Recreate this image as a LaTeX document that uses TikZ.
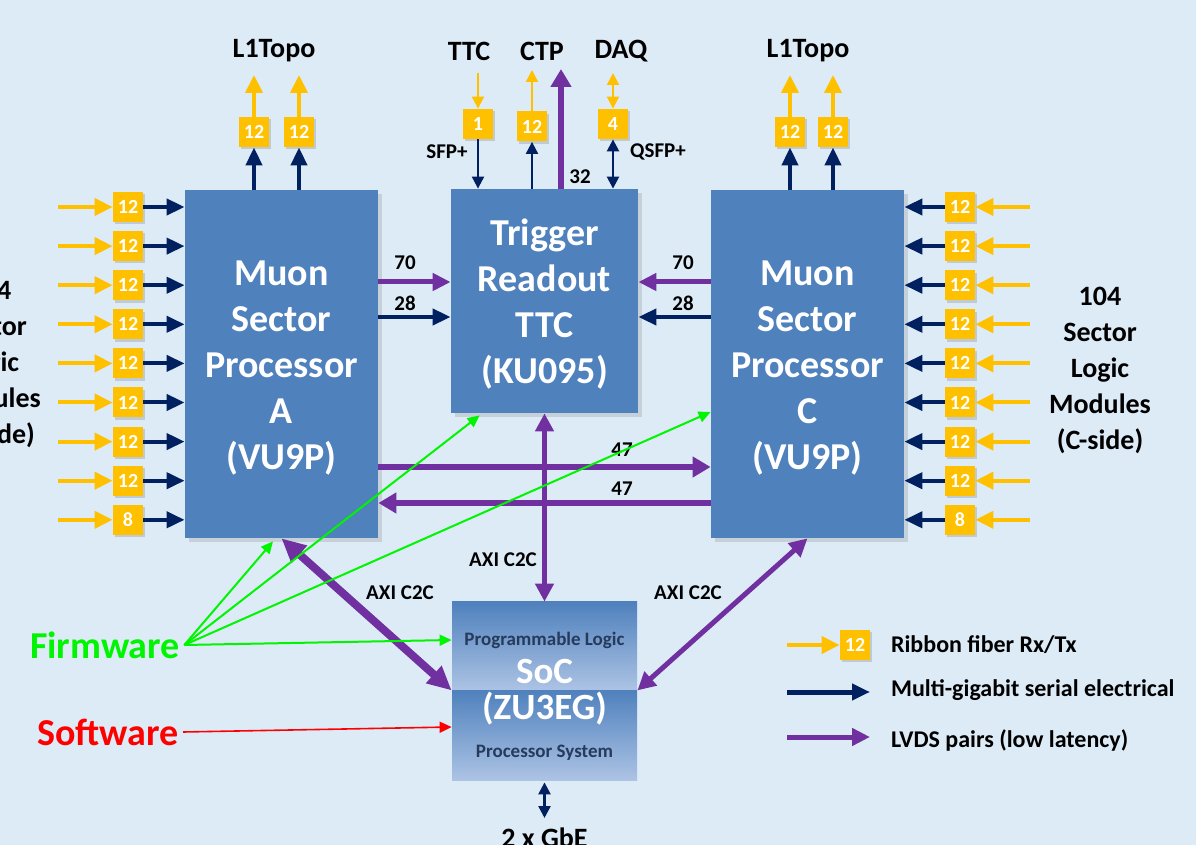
\documentclass[tikz,border=0pt]{standalone}
\usepackage{fontspec}
\setmainfont{Carlito}
\usetikzlibrary{arrows.meta,calc,shadows}
\definecolor{bg}{RGB}{221,235,247}
\definecolor{boxblue}{RGB}{79,129,189}
\definecolor{soclight}{RGB}{172,195,228}
\definecolor{fiber}{RGB}{255,192,0}
\definecolor{navy}{RGB}{0,32,96}
\definecolor{lvds}{RGB}{112,48,160}
\definecolor{fwgreen}{RGB}{0,245,0}
\definecolor{swred}{RGB}{255,0,0}
\definecolor{soctext}{RGB}{38,58,92}
\begin{document}
\begin{tikzpicture}[x=0.5pt,y=-0.5pt,
  bigbox/.style={fill=boxblue, draw=none, inner sep=0pt,
    drop shadow={shadow xshift=2pt,shadow yshift=-2pt,opacity=0.25}},
  bigtxt/.style={text=white, align=center, inner sep=0pt,
    font=\bfseries\fontsize{19}{23}\selectfont},
  socbox/.style={draw=none, inner sep=0pt, top color=boxblue, bottom color=soclight,
    minimum width=92.5pt},
  sbox/.style={fill=fiber, text=white, minimum size=15pt, inner sep=0pt,
    font=\bfseries\fontsize{10}{12}\selectfont,
    drop shadow={shadow xshift=1.2pt,shadow yshift=-1.2pt,opacity=0.3}},
  ttl/.style={font=\bfseries\fontsize{14}{18}\selectfont, align=center, inner sep=1pt},
  lbl/.style={font=\bfseries\fontsize{10.5}{12}\selectfont, inner sep=1pt},
  legtxt/.style={font=\bfseries\fontsize{12}{14}\selectfont, anchor=west},
  soctxt/.style={font=\bfseries\fontsize{9.5}{11}\selectfont, text=soctext},
  orA/.style={draw=fiber, line width=2pt, -{Triangle[length=9pt,width=8.5pt]}},
  orT/.style={draw=fiber, line width=1pt, -{Triangle[length=6pt,width=6pt]}},
  orTT/.style={draw=fiber, line width=1pt, {Triangle[length=6pt,width=6pt]}-{Triangle[length=6pt,width=6pt]}},
  nvA/.style={draw=navy, line width=2pt, -{Triangle[length=9pt,width=8pt]}},
  nvT/.style={draw=navy, line width=1pt, -{Triangle[length=6pt,width=6pt]}},
  nvTT/.style={draw=navy, line width=1.2pt, {Triangle[length=6pt,width=6pt]}-{Triangle[length=6pt,width=6pt]}},
  puA/.style={draw=lvds, line width=2.5pt, -{Triangle[length=9pt,width=8.5pt]}},
  puB/.style={draw=lvds, line width=3pt, -{Triangle[length=9pt,width=10pt]}},
  puD/.style={draw=lvds, line width=2.5pt, {Triangle[length=9pt,width=9pt]}-{Triangle[length=9pt,width=9pt]}},
  puDD/.style={draw=lvds, line width=4pt, {Triangle[length=12pt,width=11pt]}-{Triangle[length=12pt,width=11pt]}},
  gr/.style={draw=fwgreen, line width=1pt, -{Triangle[length=6pt,width=5.5pt]}},
  rd/.style={draw=swred, line width=0.8pt, -{Triangle[length=6pt,width=5.5pt]}}]
\fill[bg] (0,0) rectangle (1196,845);
\useasboundingbox (0,0) rectangle (1196,845);

% main boxes
\node[bigbox, minimum width=96.5pt, minimum height=174pt] (A) at (281.5,364) {};
\node[bigtxt] (Atxt) at ($(A.center)+(0,4.5)$) {Muon\\Sector\\Processor\\A\\(VU9P)};
\node[bigbox, minimum width=96.5pt, minimum height=174pt] (C) at (807.5,364) {};
\node[bigtxt] (Ctxt) at ($(C.center)+(0,4.5)$) {Muon\\Sector\\Processor\\C\\(VU9P)};
\node[bigbox, minimum width=93.5pt, minimum height=112pt] (T) at (544.5,301) {};
\node[bigtxt] (Ttxt) at ($(T.center)+(0,3.5)$) {Trigger\\Readout\\TTC\\(KU095)};

% SoC
\node[socbox, minimum height=44pt] (Spl) at (544.5,646) {};
\node[socbox, minimum height=45pt] (Spp) at (544.5,735) {};
\node[soctxt] (plt) at (544.5,640) {Programmable Logic};
\node[soctxt] (pst) at (544.5,753) {Processor System};
\node[text=white, align=center, font=\bfseries\fontsize{18.5}{18}\selectfont] (soct) at (544.5,692) {SoC\\(ZU3EG)};

% side text
\node[ttl] (sla) at (-10,364) {104\\Sector\\Logic\\Modules\\(A-side)};
\node[ttl] (slc) at (1100,370) {104\\Sector\\Logic\\Modules\\(C-side)};

% side inputs
\foreach \i/\n in {0/12,1/12,2/12,3/12,4/12,5/12,6/12,7/12,8/8}{
  \pgfmathsetmacro\yy{207+39.1*\i}
  \node[sbox] (la\i) at (128,\yy) {\n};
  \coordinate (las\i) at (58,\yy);
  \draw[orA] (las\i) -- (la\i.west);
  \draw[nvA] (la\i.east) -- (la\i.east -| A.west);
  \node[sbox] (lc\i) at (960,\yy) {\n};
  \coordinate (lcs\i) at (1030,\yy);
  \draw[orA] (lcs\i) -- (lc\i.east);
  \draw[nvA] (lc\i.west) -- (lc\i.west -| C.east);
}

% top of A
\node[ttl] (l1a) at (274,51) {L1Topo};
\node[sbox] (ta1) at (254,132) {12};
\node[sbox] (ta2) at (299,132) {12};
\coordinate (ta1e) at (254,75);
\coordinate (ta2e) at (299,75);
\draw[orA] (ta1.north) -- (ta1e);
\draw[orA] (ta2.north) -- (ta2e);
\draw[nvA] (A.north -| ta1) -- (ta1.south);
\draw[nvA] (A.north -| ta2) -- (ta2.south);

% top of C
\node[ttl] (l1c) at (808,51) {L1Topo};
\node[sbox] (tc1) at (790,132) {12};
\node[sbox] (tc2) at (833,132) {12};
\coordinate (tc1e) at (790,75);
\coordinate (tc2e) at (833,75);
\draw[orA] (tc1.north) -- (tc1e);
\draw[orA] (tc2.north) -- (tc2e);
\draw[nvA] (C.north -| tc1) -- (tc1.south);
\draw[nvA] (C.north -| tc2) -- (tc2.south);

% top of T
\node[ttl] (lttc) at (469,51) {TTC};
\node[ttl] (lctp) at (542,51) {CTP};
\node[ttl] (ldaq) at (621,51) {DAQ};
\node[sbox] (t1) at (478,124) {1};
\node[sbox] (t12) at (532,126.5) {12};
\node[sbox] (t4) at (613,124) {4};
\coordinate (t1s) at (478,73);
\coordinate (t12e) at (532,70);
\coordinate (t4e) at (613,73);
\coordinate (ctpe) at (561,69);
\draw[orT] (t1s) -- (t1.north);
\draw[nvT] (t1.south) -- (T.north -| t1);
\draw[orT] (t12.north) -- (t12e);
\draw[nvT] (T.north -| t12) -- (t12.south);
\draw[orTT] (t4.north) -- (t4e);
\draw[nvTT] (t4.south) -- (T.north -| t4);
\draw[puB] (T.north -| ctpe) -- (ctpe);
\node[lbl] (sfp) at (447,152) {SFP+};
\node[lbl] (qsfp) at (658,152) {QSFP+};
\node[lbl] (n32) at (580,177) {32};

% A/C <-> T
\coordinate (y70) at (0,282);
\coordinate (y28) at (0,317);
\draw[puA] (A.east |- y70) -- (T.west |- y70);
\draw[nvA] (A.east |- y28) -- (T.west |- y28);
\draw[puA] (C.west |- y70) -- (T.east |- y70);
\draw[nvA] (C.west |- y28) -- (T.east |- y28);
\node[lbl] (n70a) at (405,263) {70};
\node[lbl] (n28a) at (405,303) {28};
\node[lbl] (n70c) at (683,263) {70};
\node[lbl] (n28c) at (683,303) {28};

% A <-> C
\coordinate (y47a) at (0,467);
\coordinate (y47b) at (0,503);
\draw[puB] (A.east |- y47a) -- (C.west |- y47a);
\draw[puB] (C.west |- y47b) -- (A.east |- y47b);
\node[lbl] (n47a) at (622,450) {47};
\node[lbl] (n47b) at (622,489) {47};

% AXI C2C
\draw[puD] (T.south) -- (Spl.north);
\draw[puDD] (A.south) -- (Spl.south west);
\draw[puD] (C.south) -- (Spl.south east);
\node[lbl] (axm) at (503,560) {AXI C2C};
\node[lbl] (axa) at (400,593) {AXI C2C};
\node[lbl] (axc) at (688,593) {AXI C2C};

% Firmware / Software
\node[font=\bfseries\fontsize{19}{22}\selectfont, text=fwgreen, inner sep=2pt] (fw) at (105,645) {Firmware};
\node[font=\bfseries\fontsize{19}{22}\selectfont, text=swred, inner sep=2pt] (sw) at (108,732) {Software};
\draw[gr] (fw.east) -- ($(A.south)+(-8.5,3)$);
\draw[gr] (fw.east) -- ($(T.south west)+(29,2)$);
\draw[gr] (fw.east) -- ($(C.west)+(0,48)$);
\draw[gr] (fw.east) -- ($(Spl.west)+(0,-6)$);
\draw[rd] (sw.east) -- ($(Spp.west)+(0,-8)$);

% GbE
\coordinate (gbe) at (544.5,818);
\draw[nvTT] (Spp.south) ++(0,2) -- (gbe);
\node[ttl] (gbel) at (544.5,838) {2 x GbE};

% legend
\coordinate (lg1) at (787,645);
\node[sbox] (lgb) at (855,645) {12};
\draw[orA] (lg1) -- (lgb.west);
\node[legtxt] (lgt1) at (884,645) {Ribbon fiber Rx/Tx};
\coordinate (lg2s) at (787,692);
\coordinate (lg2e) at (870,692);
\draw[nvA, line width=2.5pt] (lg2s) -- (lg2e);
\node[legtxt] (lgt2) at (884,690) {Multi-gigabit serial electrical};
\coordinate (lg3s) at (787,737);
\coordinate (lg3e) at (870,737);
\draw[puA] (lg3s) -- (lg3e);
\node[legtxt] (lgt3) at (884,740) {LVDS pairs (low latency)};
\end{tikzpicture}
\end{document}
